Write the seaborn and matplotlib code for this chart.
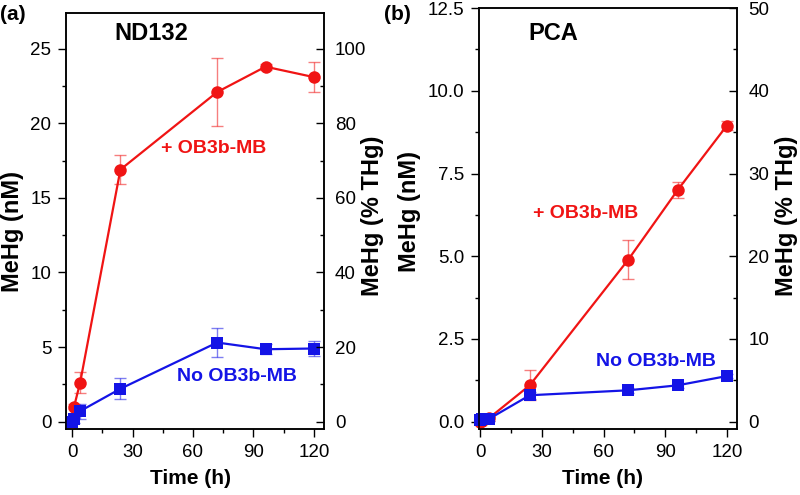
import numpy as np
import pandas as pd
import matplotlib
matplotlib.use("Agg")
import matplotlib.pyplot as plt
import seaborn as sns
from matplotlib.ticker import MultipleLocator, FormatStrFormatter

sns.set_theme(style="ticks", rc={
    "text.color": "black", "axes.labelcolor": "black", "axes.edgecolor": "black",
    "xtick.color": "black", "ytick.color": "black",
})
plt.rcParams["font.family"] = ["Liberation Sans", "DejaVu Sans"]

RED = "#f01414"
BLUE = "#1414e6"

time_h = [0, 1, 4, 24, 72, 96, 120]

# panel (a) ND132
nd_mb = [0.0, 1.0, 2.6, 16.9, 22.1, 23.8, 23.1]
nd_mb_err = [0.1, 0.15, 0.7, 1.0, 2.3, 0.2, 1.0]
nd_no = [0.0, 0.2, 0.7, 2.2, 5.3, 4.85, 4.9]
nd_no_err = [0.1, 0.3, 0.5, 0.7, 1.0, 0.35, 0.5]

# panel (b) PCA
pca_mb = [0.0, 0.03, 0.1, 1.1, 4.9, 7.0, 8.95]
pca_mb_err = [0.02, 0.05, 0.08, 0.45, 0.6, 0.25, 0.15]
pca_no = [0.05, 0.08, 0.08, 0.8, 0.95, 1.1, 1.38]
pca_no_err = [0.03, 0.04, 0.05, 0.1, 0.08, 0.08, 0.06]

TICK_FS = 13.5
LABEL_FS = 17
ANNOT_FS = 14


def draw_panel(ax, mb, mb_err, no, no_err):
    df = pd.DataFrame({
        "time": time_h * 2,
        "mehg": mb + no,
        "group": ["+ OB3b-MB"] * len(time_h) + ["No OB3b-MB"] * len(time_h),
    })
    ax.errorbar(time_h, mb, yerr=mb_err, fmt="none", ecolor=RED, alpha=0.55,
                elinewidth=1, capsize=4, capthick=1, zorder=2)
    ax.errorbar(time_h, no, yerr=no_err, fmt="none", ecolor=BLUE, alpha=0.55,
                elinewidth=1, capsize=4, capthick=1, zorder=2)
    sns.lineplot(data=df, x="time", y="mehg", hue="group", style="group",
                 palette={"+ OB3b-MB": RED, "No OB3b-MB": BLUE},
                 markers={"+ OB3b-MB": "o", "No OB3b-MB": "s"},
                 dashes=False, markersize=9, markeredgewidth=0,
                 linewidth=1.6, ax=ax, legend=False, zorder=3, clip_on=False)
    ax.set_xlim(-3, 125)
    ax.xaxis.set_major_locator(MultipleLocator(30))
    ax.xaxis.set_minor_locator(MultipleLocator(15))
    ax.set_xlabel("")
    ax.set_ylabel("")
    ax.tick_params(which="major", direction="out", length=5.5, width=1,
                   labelsize=TICK_FS, pad=5)
    ax.tick_params(which="minor", direction="out", length=3, width=1)
    for s in ax.spines.values():
        s.set_linewidth(1.1)
        s.set_visible(True)


fig = plt.figure(figsize=(8, 4.95), dpi=100)
ax1 = fig.add_axes([0.0825, 0.1333, 0.3225, 0.8404])
ax2 = fig.add_axes([0.599, 0.1333, 0.3225, 0.8505])

# (a)
draw_panel(ax1, nd_mb, nd_mb_err, nd_no, nd_no_err)
ax1.set_ylim(-0.5, 27.4)
ax1.yaxis.set_major_locator(MultipleLocator(5))
ax1.yaxis.set_minor_locator(MultipleLocator(2.5))
ax1.text(0.33, 0.95, "ND132", transform=ax1.transAxes, fontsize=17,
         fontweight="bold", ha="center", va="center")
ax1.text(70, 18.3, "+ OB3b-MB", color=RED, fontsize=ANNOT_FS, fontweight="bold",
         ha="center", va="center")
ax1.text(82, 3.0, "No OB3b-MB", color=BLUE, fontsize=ANNOT_FS, fontweight="bold",
         ha="center", va="center")

# (b)
draw_panel(ax2, pca_mb, pca_mb_err, pca_no, pca_no_err)
ax2.set_xlim(-0.6, 125)
ax2.set_ylim(-0.22, 12.5)
ax2.yaxis.set_major_locator(MultipleLocator(2.5))
ax2.yaxis.set_minor_locator(MultipleLocator(1.25))
ax2.yaxis.set_major_formatter(FormatStrFormatter("%.1f"))
ax2.text(0.287, 0.94, "PCA", transform=ax2.transAxes, fontsize=17,
         fontweight="bold", ha="center", va="center")
ax2.text(51, 6.3, "+ OB3b-MB", color=RED, fontsize=ANNOT_FS, fontweight="bold",
         ha="center", va="center")
ax2.text(85.4, 1.83, "No OB3b-MB", color=BLUE, fontsize=ANNOT_FS, fontweight="bold",
         ha="center", va="center")

# right-hand % THg axes
for ax, top_major, top_minor in [(ax1, 20, 10), (ax2, 10, 5)]:
    tw = ax.twinx()
    lo, hi = ax.get_ylim()
    tw.set_ylim(lo * 4, hi * 4)
    tw.yaxis.set_major_locator(MultipleLocator(top_major))
    tw.yaxis.set_minor_locator(MultipleLocator(top_minor))
    tw.tick_params(which="major", direction="in", length=6, width=1,
                   labelsize=TICK_FS, pad=8)
    tw.tick_params(which="minor", direction="in", length=3, width=1)
    for s in tw.spines.values():
        s.set_linewidth(1.1)

# axis titles and panel letters
bold = dict(fontweight="bold", ha="center", va="center")
fig.text(13 / 800, 1 - 231 / 495, "MeHg (nM)", rotation=90, fontsize=LABEL_FS, **bold)
fig.text(372 / 800, 1 - 216 / 495, "MeHg (% THg)", rotation=90, fontsize=LABEL_FS, **bold)
fig.text(410 / 800, 1 - 212 / 495, "MeHg (nM)", rotation=90, fontsize=LABEL_FS, **bold)
fig.text(787 / 800, 1 - 216 / 495, "MeHg (% THg)", rotation=90, fontsize=LABEL_FS, **bold)
fig.text(190 / 800, 1 - 478 / 495, "Time (h)", fontsize=15, **bold)
fig.text(602 / 800, 1 - 478 / 495, "Time (h)", fontsize=15, **bold)
fig.text(13 / 800, 1 - 14 / 495, "(a)", fontsize=15, **bold)
fig.text(397 / 800, 1 - 14 / 495, "(b)", fontsize=15, **bold)

fig.savefig("out.png", dpi=100)
